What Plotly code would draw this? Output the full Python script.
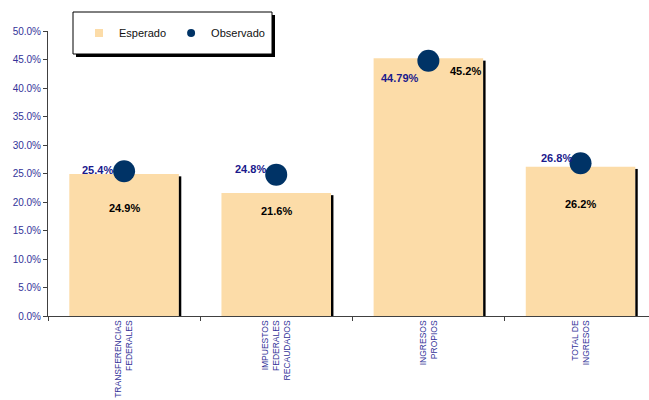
import plotly.graph_objects as go

categories = ["TRANSFERENCIAS<br>FEDERALES", "IMPUESTOS<br>FEDERALES<br>RECAUDADOS",
              "INGRESOS<br>PROPIOS", "TOTAL DE<br>INGRESOS"]
esperado = [0.249, 0.216, 0.452, 0.262]
observado = [0.254, 0.248, 0.4479, 0.268]
esperado_labels = ["24.9%", "21.6%", "45.2%", "26.2%"]
observado_labels = ["25.4%", "24.8%", "44.79%", "26.8%"]

# label offsets in pixels (layout only)
esp_shift = [(0, -34), (0, -18), (37, -13), (0, -37)]
obs_shift = [(-27, 1), (-26, 6), (-28, -17), (-24, 5)]

BAR = "#FCDCA8"
DOT = "#003366"
LBL = "#1A1A8C"
AX = "#333399"

fig = go.Figure()
fig.add_trace(go.Bar(x=categories, y=esperado, name="Esperado", showlegend=False,
                     marker=dict(color=BAR, line=dict(width=0)), width=0.72, hoverinfo="skip"))
fig.add_trace(go.Bar(x=categories, y=[v - 0.004 for v in esperado], name="shadow", showlegend=False,
                     marker=dict(color="black", line=dict(width=0)), width=0.016, offset=0.36, hoverinfo="skip"))
fig.add_trace(go.Scatter(x=categories, y=observado, name="Observado", mode="markers", showlegend=False,
                         marker=dict(color=DOT, size=22)))
# legend entries
fig.add_trace(go.Scatter(x=[None], y=[None], name="Esperado", mode="markers",
                         marker=dict(color=BAR, size=8, symbol="square")))
fig.add_trace(go.Scatter(x=[None], y=[None], name="Observado", mode="markers",
                         marker=dict(color=DOT, size=8)))

for i, c in enumerate(categories):
    fig.add_annotation(x=c, y=esperado[i], text="<b>" + esperado_labels[i] + "</b>", showarrow=False,
                       xshift=esp_shift[i][0], yshift=esp_shift[i][1],
                       font=dict(family="Arial, Liberation Sans", size=11, color="black"))
    fig.add_annotation(x=c, y=observado[i], text="<b>" + observado_labels[i] + "</b>", showarrow=False,
                       xshift=obs_shift[i][0], yshift=obs_shift[i][1],
                       font=dict(family="Arial, Liberation Sans", size=11, color=LBL))

# legend box with shadow
pw, ph = 601, 285
def px(x):
    return (x - 48) / pw
def py(y):
    return (316 - y) / ph
fig.add_shape(type="rect", xref="paper", yref="paper", x0=px(76), x1=px(275), y0=py(57), y1=py(15),
              fillcolor="black", line=dict(width=0), layer="above")
fig.add_shape(type="rect", xref="paper", yref="paper", x0=px(73), x1=px(272), y0=py(54), y1=py(12),
              fillcolor="white", line=dict(color="black", width=1), layer="above")

fig.update_layout(
    width=649, height=400,
    margin=dict(l=48, r=0, t=31, b=84),
    paper_bgcolor="white", plot_bgcolor="white",
    barmode="overlay",
    showlegend=True,
    legend=dict(orientation="h", x=px(79), y=py(33), xanchor="left", yanchor="middle",
                bgcolor="rgba(0,0,0,0)", borderwidth=0,
                font=dict(family="Arial, Liberation Sans", size=11, color="#111111"),
                itemwidth=30, traceorder="normal"),
    font=dict(family="Arial, Liberation Sans"),
)
fig.update_xaxes(range=[-0.5, 3.45], showline=True, linecolor="#404040", linewidth=1,
                 ticks="outside", tickson="boundaries", ticklen=4, tickcolor="#404040",
                 tickangle=-90, tickfont=dict(size=8.5, color=AX), showgrid=False)
fig.update_yaxes(range=[0, 0.5], dtick=0.05, tickformat=".1%", showline=True, linecolor="#404040",
                 linewidth=1, ticks="outside", ticklen=4, tickcolor="#404040", showgrid=False,
                 zeroline=False, tickfont=dict(size=10, color=AX))

fig.write_html("out.html")
